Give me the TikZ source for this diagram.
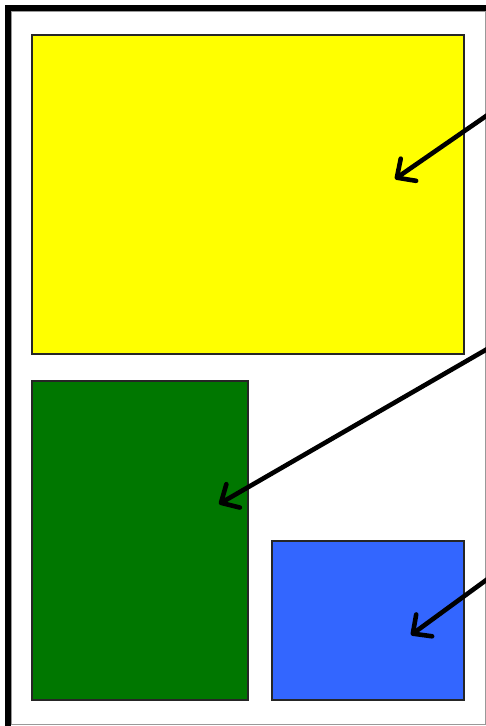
\documentclass[tikz,border=0pt]{standalone}
\usetikzlibrary{arrows.meta}
\definecolor{boxyellow}{RGB}{255,255,0}
\definecolor{boxgreen}{RGB}{0,119,0}
\definecolor{boxblue}{RGB}{51,102,255}
\begin{document}
\begin{tikzpicture}[x=1pt,y=-1pt,
  panel/.style={draw=black!85,line width=1.3pt,inner sep=0pt,outer sep=0pt},
  pointer/.style={line width=4.6pt,line cap=round,line join=round,
    -{Straight Barb[length=14pt,width=27pt,line cap=round,line join=round]}}]
\useasboundingbox (0,0) rectangle (486,726);
\fill[white] (0,0) rectangle (486,726);
\draw[line width=6pt,miter limit=10] (8,726) -- (8,8) -- (486,8);
\draw[black!40,line width=1pt] (11.5,11.5) rectangle (485,724);
\node[panel,fill=boxyellow,anchor=north west,minimum width=432pt,minimum height=319pt] (yellow) at (32,35) {};
\node[panel,fill=boxgreen,anchor=north west,minimum width=216pt,minimum height=319pt] (green) at (32,381) {};
\node[panel,fill=boxblue,anchor=north west,minimum width=192pt,minimum height=159pt] (blue) at (272,541) {};
\coordinate (s1) at (489,114);
\coordinate (t1) at (395,179);
\coordinate (s2) at (489,348);
\coordinate (t2) at (219,504);
\coordinate (s3) at (489,578);
\coordinate (t3) at (411,635);
\draw[pointer] (s1) -- (t1);
\draw[pointer] (s2) -- (t2);
\draw[pointer] (s3) -- (t3);
\end{tikzpicture}
\end{document}
